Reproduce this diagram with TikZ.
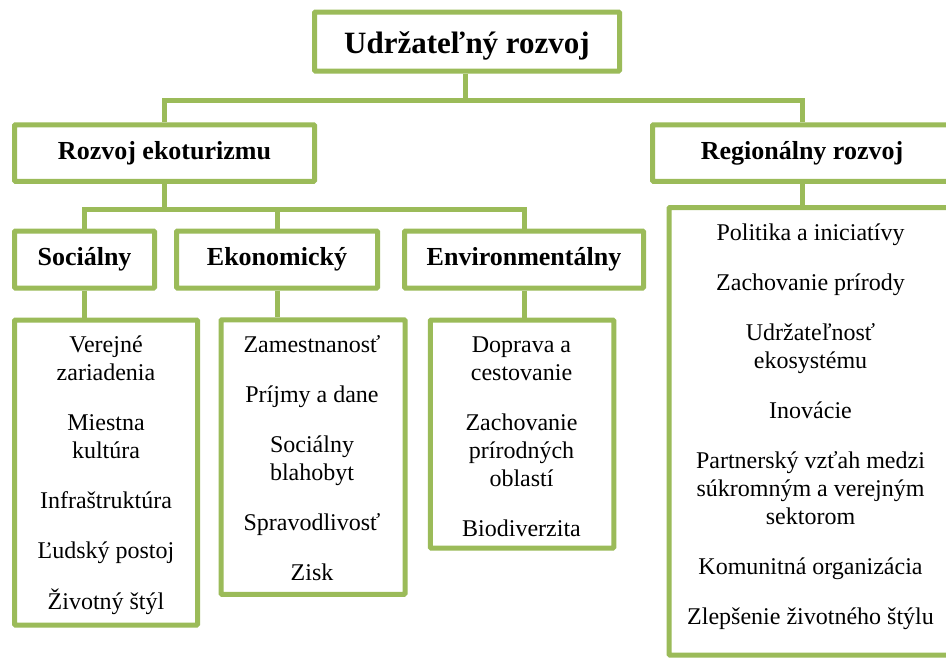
\documentclass[tikz,border=0pt]{standalone}
\usepackage{fontspec}
\setmainfont{Liberation Serif}
\definecolor{grn}{HTML}{9BBB59}
\tikzset{
  box/.style={draw=grn, line width=5pt, fill=white, inner sep=0pt, rounded corners=1pt},
  head/.style={box, font=\bfseries\fontsize{26}{30}\selectfont, text height=12pt, text depth=0pt},
  conn/.style={draw=grn, line width=5pt},
  item/.style={inner sep=0pt, anchor=base, font=\fontsize{24}{28}\selectfont}
}
\begin{document}
\begin{tikzpicture}[x=1pt,y=-1pt]
\useasboundingbox (0,0) rectangle (946,659);
\clip (0,0) rectangle (946,659);
\fill[white] (0,0) rectangle (946,659);

% headings
\node[head, font=\bfseries\fontsize{31}{36}\selectfont, text height=23pt, minimum width=305pt, minimum height=59pt] (top) at (467,41.5) {Udržateľný rozvoj};
\node[head, minimum width=300pt, minimum height=56.5pt] (eko) at (164.5,153) {Rozvoj ekoturizmu};
\node[head, minimum width=299pt, minimum height=56.5pt] (reg) at (802,153) {Regionálny rozvoj};
\node[head, minimum width=140pt, minimum height=57pt] (soc) at (84.5,259.5) {Sociálny};
\node[head, minimum width=201pt, minimum height=57pt] (eck) at (277,259.5) {Ekonomický};
\node[head, minimum width=239pt, minimum height=57pt] (env) at (524,259.5) {Environmentálny};

% detail boxes
\node[box, minimum width=183pt, minimum height=305pt] (socd) at (106,472.5) {};
\node[box, minimum width=184pt, minimum height=274.5pt] (eckd) at (313,457) {};
\node[box, minimum width=183.5pt, minimum height=228pt] (envd) at (522,434) {};
\node[box, minimum width=282pt, minimum height=447.5pt] (regd) at (810,431.25) {};

% connectors
\coordinate (j1) at (465.5,100);
\coordinate (j2) at (164.5,209.5);
\draw[conn] (top.south -| j1) -- (j1);
\draw[conn] (eko.north) |- (reg.north |- j1) -- (reg.north);
\draw[conn] (eko.south) -- (j2);
\draw[conn] (soc.north) |- (env.north |- j2) -- (env.north);
\draw[conn] (eck.north) -- (eck.north |- j2);
\draw[conn] (soc.south) -- (soc.south |- socd.north);
\draw[conn] (eck.south) -- (eck.south |- eckd.north);
\draw[conn] (env.south) -- (env.south |- envd.north);
\draw[conn] (reg.south) -- (reg.south |- regd.north);

% detail texts
\node[item] (soct) at (106,352) {\begin{tabular}[t]{@{}c@{}}Verejné\\zariadenia\\[22pt]Miestna\\kultúra\\[22pt]Infraštruktúra\\[22pt]Ľudský postoj\\[22pt]Životný štýl\end{tabular}};
\node[item] (eckt) at (312,352) {\begin{tabular}[t]{@{}c@{}}Zamestnanosť\\[22pt]Príjmy a dane\\[22pt]Sociálny\\blahobyt\\[22pt]Spravodlivosť\\[22pt]Zisk\end{tabular}};
\node[item] (envt) at (521.5,352) {\begin{tabular}[t]{@{}c@{}}Doprava a\\cestovanie\\[22pt]Zachovanie\\prírodných\\oblastí\\[22pt]Biodiverzita\end{tabular}};
\node[item] (regt) at (810.5,240) {\begin{tabular}[t]{@{}c@{}}Politika a iniciatívy\\[22pt]Zachovanie prírody\\[22pt]Udržateľnosť\\ekosystému\\[22pt]Inovácie\\[22pt]Partnerský vzťah medzi\\súkromným a verejným\\sektorom\\[22pt]Komunitná organizácia\\[22pt]Zlepšenie životného štýlu\end{tabular}};
\end{tikzpicture}
\end{document}
